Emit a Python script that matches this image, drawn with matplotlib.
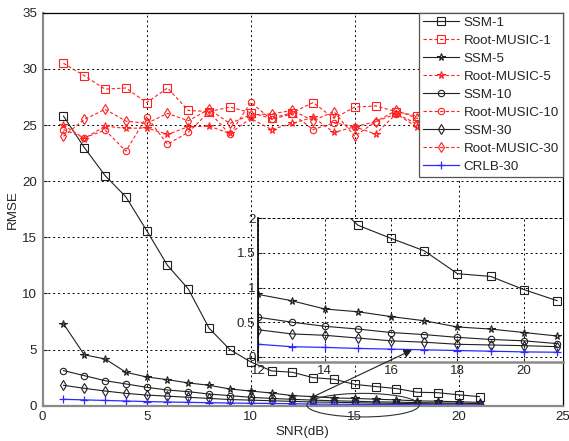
import matplotlib
matplotlib.use("Agg")
import matplotlib.pyplot as plt
from matplotlib.patches import Ellipse

plt.rcParams['font.family'] = ['Arial', 'Liberation Sans', 'DejaVu Sans']

snr = list(range(1, 22))

ssm_1 = [25.8, 23.0, 20.5, 18.6, 15.6, 12.5, 10.4, 6.9, 5.0, 3.9, 3.1,
         2.98, 2.5, 2.36, 1.9, 1.71, 1.53, 1.2, 1.16, 0.97, 0.81]
rm_1 = [30.5, 29.4, 28.2, 28.3, 27.0, 28.3, 26.3, 26.2, 26.6, 26.1, 25.6,
        26.1, 27.0, 25.6, 26.6, 26.7, 26.2, 25.8, 26.3, 25.9, 26.0]
ssm_5 = [7.3, 4.53, 4.17, 2.98, 2.56, 2.32, 2.03, 1.82, 1.49, 1.31, 1.13,
         0.90, 0.81, 0.69, 0.65, 0.58, 0.52, 0.43, 0.40, 0.35, 0.30]
rm_5 = [25.0, 23.8, 24.9, 24.7, 24.75, 24.17, 24.85, 24.9, 24.25, 25.6, 24.6,
        25.15, 25.7, 24.34, 24.85, 24.2, 26.0, 24.8, 25.2, 24.6, 25.0]
ssm_10 = [3.13, 2.68, 2.23, 1.94, 1.64, 1.40, 1.25, 1.04, 0.90, 0.75, 0.65,
          0.57, 0.50, 0.44, 0.40, 0.35, 0.32, 0.28, 0.25, 0.23, 0.19]
rm_10 = [24.6, 23.87, 24.55, 22.68, 25.73, 23.3, 24.35, 26.18, 24.17, 27.02, 25.5,
         26.0, 24.6, 25.2, 24.85, 25.3, 26.0, 25.1, 24.7, 25.4, 25.2]
ssm_30 = [1.82, 1.55, 1.31, 1.10, 0.95, 0.85, 0.75, 0.65, 0.55, 0.50, 0.44,
          0.39, 0.33, 0.31, 0.27, 0.23, 0.21, 0.18, 0.17, 0.16, 0.145]
rm_30 = [24.0, 25.5, 26.4, 25.35, 25.15, 26.04, 25.38, 26.4, 25.15, 25.9, 26.0,
         26.3, 25.4, 26.2, 24.0, 25.3, 26.3, 25.6, 25.1, 25.8, 25.4]
crlb_30 = [0.57, 0.52, 0.47, 0.42, 0.37, 0.33, 0.30, 0.27, 0.24, 0.22, 0.20,
           0.18, 0.145, 0.135, 0.12, 0.11, 0.10, 0.09, 0.08, 0.07, 0.065]

labels = ['SSM-1', 'Root-MUSIC-1', 'SSM-5', 'Root-MUSIC-5',
          'SSM-10', 'Root-MUSIC-10', 'SSM-30', 'Root-MUSIC-30', 'CRLB-30']

main_xticks = [0, 5, 10, 15, 20, 25]
main_yticks = [0, 5, 10, 15, 20, 25, 30, 35]
inset_xticks = [12, 14, 16, 18, 20]
inset_yticks = [0, 0.5, 1, 1.5, 2]
inset_ytick_labels = ['0', '0.5', '1', '1.5', '2']

TXT = '#262626'
DASH = (0, (3, 2))
FS = 9.6


def draw_series(ax, xs, ms):
    ssm_kw = dict(color='#202020', lw=0.8, mfc='none', mew=0.8)
    rm_kw = dict(color='#ff2020', lw=0.8, ls=DASH, mfc='none', mew=0.8)
    hs = []
    hs += ax.plot(xs, ssm_1, marker='s', ms=ms + 0.8, **ssm_kw)
    hs += ax.plot(xs, rm_1, marker='s', ms=ms + 0.8, **rm_kw)
    hs += ax.plot(xs, ssm_5, marker='*', ms=ms + 0.8, **ssm_kw)
    hs += ax.plot(xs, rm_5, marker='*', ms=ms + 0.8, **rm_kw)
    hs += ax.plot(xs, ssm_10, marker='o', ms=ms, **ssm_kw)
    hs += ax.plot(xs, rm_10, marker='o', ms=ms, **rm_kw)
    hs += ax.plot(xs, ssm_30, marker='d', ms=ms, **ssm_kw)
    hs += ax.plot(xs, rm_30, marker='d', ms=ms, **rm_kw)
    hs += ax.plot(xs, crlb_30, marker='+', ms=ms + 1.5, color='#2a2aff',
                  lw=0.9, mew=0.9)
    return hs


fig = plt.figure(figsize=(5.69, 4.41), dpi=100)
ax = fig.add_axes([0.075, 0.080, 0.914, 0.891])
handles = draw_series(ax, snr, 4.6)
ax.set_xlim(0, 25)
ax.set_ylim(0, 35)
ax.set_xticks(main_xticks)
ax.set_yticks(main_yticks)
ax.grid(True, color='black', ls=(0, (2, 3)), lw=0.7)
ax.tick_params(direction='in', length=3, labelsize=FS, colors=TXT, pad=4)
for s in ax.spines.values():
    s.set_linewidth(0.9)
ax.spines['left'].set_color('#8a8a8a')
ax.spines['bottom'].set_color('#8a8a8a')
ax.spines['left'].set_linewidth(1.6)
ax.spines['bottom'].set_linewidth(1.6)
ax.set_xlabel('SNR(dB)', fontsize=FS, color=TXT, labelpad=2)
ax.set_ylabel('RMSE', fontsize=FS, color=TXT, labelpad=2)

ax.add_patch(Ellipse((15.4, 0.05), 5.4, 2.1, fill=False, ec='#303030',
                     lw=0.8, clip_on=False, zorder=5))

leg = ax.legend(handles, labels, loc='upper right', fontsize=FS,
                frameon=True, fancybox=False, borderaxespad=0.0,
                handlelength=2.7, handletextpad=0.3, labelspacing=0.42,
                borderpad=0.3, framealpha=1.0)
leg.get_frame().set_edgecolor('#555555')
leg.get_frame().set_linewidth(0.9)
for t in leg.get_texts():
    t.set_color(TXT)

# zoomed view of the high-SNR region
axin = fig.add_axes([0.454, 0.1785, 0.5355, 0.3265])
draw_series(axin, snr, 4.6)
axin.set_xlim(12, 21.18)
axin.set_ylim(-0.08, 2)
axin.set_xticks(inset_xticks)
axin.set_yticks(inset_yticks)
axin.set_yticklabels(inset_ytick_labels)
axin.grid(True, color='black', ls=(0, (2, 3)), lw=0.7)
axin.tick_params(direction='in', length=3, labelsize=FS, colors=TXT, pad=2)
axin.spines['left'].set_color('black')
axin.spines['left'].set_linewidth(1.2)
axin.spines['bottom'].set_color('#8a8a8a')
axin.spines['bottom'].set_linewidth(1.8)
axin.spines['top'].set_linestyle((0, (2, 3)))
axin.spines['top'].set_linewidth(0.7)
axin.spines['right'].set_linestyle((0, (2, 3)))
axin.spines['right'].set_linewidth(0.7)

axin.annotate('', xy=(17.75, 4.96), xytext=(13.0, 0.8),
              xycoords=ax.transData, textcoords=ax.transData,
              annotation_clip=False,
              arrowprops=dict(arrowstyle='-|>', color='#202020', lw=0.8,
                              mutation_scale=12, shrinkA=0, shrinkB=0))

fig.savefig('out.png', dpi=100)
